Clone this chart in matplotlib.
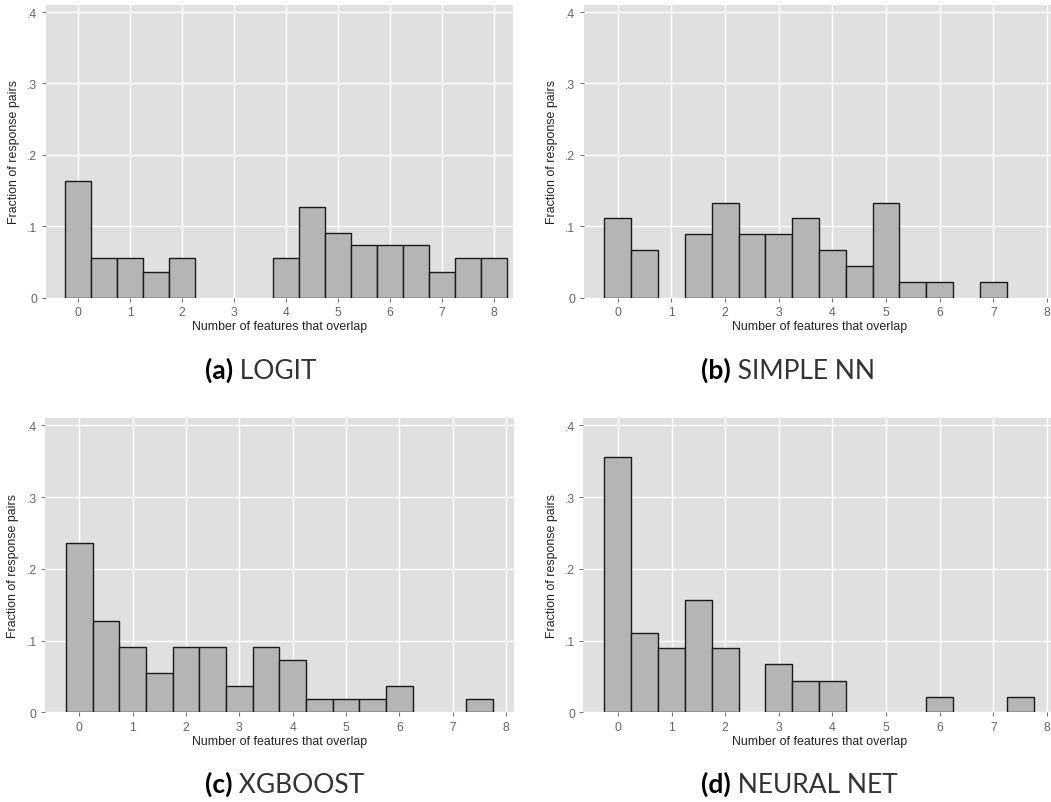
import matplotlib
matplotlib.use("Agg")
from matplotlib import pyplot as plt

plt.rcParams['font.family'] = ['Liberation Sans', 'DejaVu Sans']

# histogram bins: width 0.5, centred on 0, 0.5, ..., 8
bin_centers = [0, 0.5, 1, 1.5, 2, 2.5, 3, 3.5, 4, 4.5, 5, 5.5, 6, 6.5, 7, 7.5, 8]

logit = [0.164, 0.055, 0.055, 0.036, 0.055, 0, 0, 0, 0.055,
         0.127, 0.091, 0.073, 0.073, 0.073, 0.036, 0.055, 0.055]
simple_nn = [0.111, 0.067, 0, 0.089, 0.133, 0.089, 0.089, 0.111, 0.067,
             0.044, 0.133, 0.022, 0.022, 0, 0.022, 0, 0]
xgboost = [0.236, 0.127, 0.091, 0.055, 0.091, 0.091, 0.036, 0.091, 0.073,
           0.018, 0.018, 0.018, 0.036, 0, 0, 0.018, 0]
neural_net = [0.356, 0.111, 0.089, 0.156, 0.089, 0, 0.067, 0.044, 0.044,
              0, 0, 0, 0.022, 0, 0, 0.022, 0]

x_ticks = [0, 1, 2, 3, 4, 5, 6, 7, 8]
y_ticks = [0, 0.1, 0.2, 0.3, 0.4]
y_tick_labels = ['0', '.1', '.2', '.3', '.4']

panel_tags = ['(a)', '(b)', '(c)', '(d)']
panel_names = ['LOGIT', 'SIMPLE NN', 'XGBOOST', 'NEURAL NET']

W, H = 1051, 803
fig = plt.figure(figsize=(W / 100, H / 100), dpi=100)

# axes boxes in pixels: left, top, right, bottom, x-range
boxes = [
    (45.6, 6.0, 513.3, 298.5, (-0.63, 8.38)),
    (583.5, 6.0, 1055.0, 298.5, (-0.64, 8.15)),
    (45.0, 419.3, 514.0, 713.3, (-0.645, 8.15)),
    (583.3, 419.3, 1055.0, 713.3, (-0.645, 8.15)),
]
series = [logit, simple_nn, xgboost, neural_net]
caption_pos = [(205, 379), (701, 379), (205, 793), (701, 793)]

for (l, t, r, b, xr), vals in zip(boxes, series):
    ax = fig.add_axes([l / W, 1 - b / H, (r - l) / W, (b - t) / H])
    ax.set_facecolor('#e0e0e0')
    ax.set_axisbelow(True)
    ax.grid(True, color='white', linewidth=1.0)
    xs = [c for c, v in zip(bin_centers, vals) if v > 0]
    hs = [v for v in vals if v > 0]
    ax.bar(xs, hs, width=0.5, color='#b5b5b5', edgecolor='#1a1a1a',
           linewidth=1.0, zorder=3)
    ax.set_xlim(*xr)
    ax.set_ylim(0, 0.41)
    ax.set_xticks(x_ticks)
    ax.set_yticks(y_ticks)
    ax.set_yticklabels(y_tick_labels)
    for s in ax.spines.values():
        s.set_visible(False)
    ax.tick_params(length=3, width=0.8, color='#777777', labelcolor='#666666',
                   labelsize=8.8, pad=3)
    ax.set_xlabel('Number of features that overlap', fontsize=8.9, color='#222222')
    ax.set_ylabel('Fraction of response pairs', fontsize=8.9, color='#222222')
    w_px = r - l
    h_px = b - t
    ax.xaxis.set_label_coords(0.5, -22.5 / h_px)
    ax.yaxis.set_label_coords(-25.5 / w_px, 0.5)

# sub-captions: bold tag followed by the model name
renderer = fig.canvas.get_renderer()
for tag, name, (cx, cy) in zip(panel_tags, panel_names, caption_pos):
    t1 = fig.text(cx / W, 1 - cy / H, tag, fontsize=19, fontweight='bold',
                  family=['Lato', 'DejaVu Sans'], color='black',
                  ha='left', va='baseline')
    bb = t1.get_window_extent(renderer)
    fig.text(bb.x1 / W, 1 - cy / H, ' ' + name, fontsize=19,
             family=['Lato', 'DejaVu Sans'], color='#333333',
             ha='left', va='baseline')

fig.savefig('out.png', dpi=100)
